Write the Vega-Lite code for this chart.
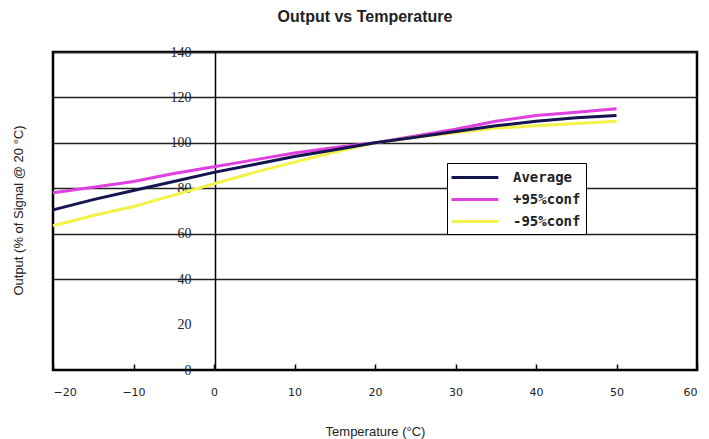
{
  "$schema": "https://vega.github.io/schema/vega-lite/v6.json",
  "width": 644,
  "height": 318,
  "autosize": "none",
  "padding": {"left": 53, "top": 52, "right": 12, "bottom": 69},
  "background": "white",
  "title": {"text": "Output vs Temperature", "font": "Liberation Sans", "fontSize": 16, "fontWeight": "bold", "anchor": "middle", "offset": 20, "dx": -10, "color": "#222"},
  "config": {"view": {"stroke": "black", "strokeWidth": 2.5}},
  "data": {"values": [
    {"temp": -20, "series": "+95%conf", "value": 78},
    {"temp": -15, "series": "+95%conf", "value": 80.5},
    {"temp": -10, "series": "+95%conf", "value": 83},
    {"temp": -5, "series": "+95%conf", "value": 86.5},
    {"temp": 0, "series": "+95%conf", "value": 89.5},
    {"temp": 5, "series": "+95%conf", "value": 92.5},
    {"temp": 10, "series": "+95%conf", "value": 95.5},
    {"temp": 15, "series": "+95%conf", "value": 98},
    {"temp": 20, "series": "+95%conf", "value": 100},
    {"temp": 25, "series": "+95%conf", "value": 103},
    {"temp": 30, "series": "+95%conf", "value": 106},
    {"temp": 35, "series": "+95%conf", "value": 109.5},
    {"temp": 40, "series": "+95%conf", "value": 112},
    {"temp": 45, "series": "+95%conf", "value": 113.5},
    {"temp": 50, "series": "+95%conf", "value": 115},
    {"temp": -20, "series": "-95%conf", "value": 63.5},
    {"temp": -15, "series": "-95%conf", "value": 68},
    {"temp": -10, "series": "-95%conf", "value": 72},
    {"temp": -5, "series": "-95%conf", "value": 77},
    {"temp": 0, "series": "-95%conf", "value": 82},
    {"temp": 5, "series": "-95%conf", "value": 87},
    {"temp": 10, "series": "-95%conf", "value": 91.5},
    {"temp": 15, "series": "-95%conf", "value": 96},
    {"temp": 20, "series": "-95%conf", "value": 100},
    {"temp": 25, "series": "-95%conf", "value": 102.5},
    {"temp": 30, "series": "-95%conf", "value": 104.5},
    {"temp": 35, "series": "-95%conf", "value": 106.5},
    {"temp": 40, "series": "-95%conf", "value": 107.5},
    {"temp": 45, "series": "-95%conf", "value": 108.5},
    {"temp": 50, "series": "-95%conf", "value": 109.5},
    {"temp": -20, "series": "Average", "value": 70.5},
    {"temp": -15, "series": "Average", "value": 75},
    {"temp": -10, "series": "Average", "value": 79},
    {"temp": -5, "series": "Average", "value": 83},
    {"temp": 0, "series": "Average", "value": 87},
    {"temp": 5, "series": "Average", "value": 90.5},
    {"temp": 10, "series": "Average", "value": 94},
    {"temp": 15, "series": "Average", "value": 97},
    {"temp": 20, "series": "Average", "value": 100},
    {"temp": 25, "series": "Average", "value": 102.5},
    {"temp": 30, "series": "Average", "value": 105},
    {"temp": 35, "series": "Average", "value": 107.5},
    {"temp": 40, "series": "Average", "value": 109.5},
    {"temp": 45, "series": "Average", "value": 111},
    {"temp": 50, "series": "Average", "value": 112}
  ]},
  "mark": {"type": "line", "strokeWidth": 3},
  "encoding": {
    "x": {
      "field": "temp", "type": "quantitative",
      "scale": {"domain": [-20, 60], "nice": false, "zero": false},
      "axis": {
        "values": [-20, -10, 0, 10, 20, 30, 40, 50, 60],
        "grid": false, "domain": false,
        "tickSize": -6, "tickColor": "black", "tickWidth": 1.5,
        "labelPadding": 22, "labelFont": "DejaVu Sans", "labelFontSize": 11, "labelColor": "#222",
        "title": "Temperature (°C)", "titleFont": "Liberation Sans", "titleFontSize": 13,
        "titleFontWeight": "normal", "titleColor": "#222", "titlePadding": 28
      }
    },
    "y": {
      "field": "value", "type": "quantitative",
      "scale": {"domain": [0, 140], "nice": false},
      "axis": {
        "values": [0, 20, 40, 60, 80, 100, 120, 140],
        "offset": -162,
        "domainColor": "black", "domainWidth": 1.5,
        "ticks": false,
        "labelPadding": 24, "labelFont": "Liberation Serif", "labelFontSize": 14, "labelColor": "#222",
        "grid": true, "gridColor": "#222", "gridWidth": 1.5,
        "gridOpacity": {"condition": {"test": "datum.value < 30", "value": 0}, "value": 1},
        "title": "Output (% of Signal @ 20 °C)", "titleFont": "Liberation Sans", "titleFontSize": 13,
        "titleFontWeight": "normal", "titleColor": "#222",
        "titleX": -197, "titleY": 158, "titleAngle": -90, "titleAlign": "center", "titleBaseline": "middle"
      }
    },
    "color": {
      "field": "series", "type": "nominal",
      "scale": {"domain": ["Average", "+95%conf", "-95%conf"], "range": ["#141450", "#e040e0", "#f2f24a"]},
      "legend": {
        "orient": "none", "legendX": 394, "legendY": 111, "title": null,
        "symbolType": "M-1.25,0H4.6", "symbolSize": 256, "symbolStrokeWidth": 3,
        "strokeColor": "black", "fillColor": "white", "padding": 5,
        "labelFont": "DejaVu Sans Mono", "labelFontSize": 14, "labelFontWeight": "bold",
        "labelColor": "#222", "rowPadding": 5, "labelOffset": 42
      }
    }
  }
}
